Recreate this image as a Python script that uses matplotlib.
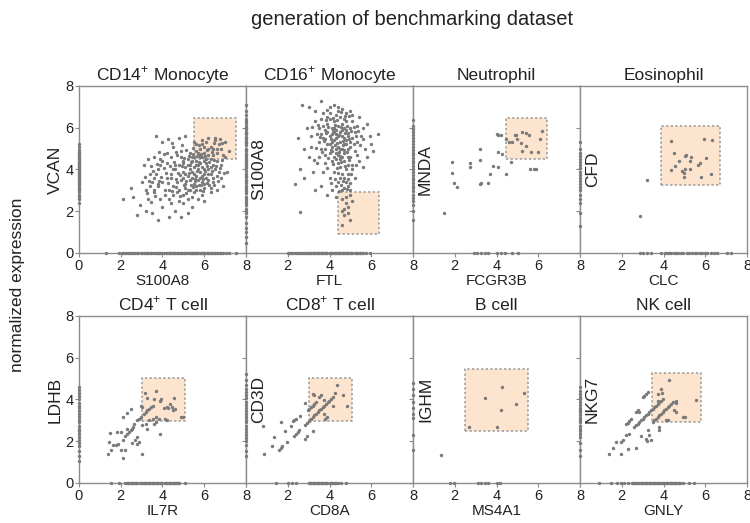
import matplotlib
matplotlib.use('Agg')
import matplotlib.pyplot as plt
from matplotlib.patches import Rectangle

plt.rcParams['font.family'] = ['Liberation Sans', 'DejaVu Sans']
plt.rcParams['mathtext.fontset'] = 'custom'
plt.rcParams['mathtext.rm'] = 'Liberation Sans'

# panel names and genes
titles = ['CD14$^{+}$ Monocyte', 'CD16$^{+}$ Monocyte', 'Neutrophil', 'Eosinophil',
          'CD4$^{+}$ T cell', 'CD8$^{+}$ T cell', 'B cell', 'NK cell']
x_genes = ['S100A8', 'FTL', 'FCGR3B', 'CLC', 'IL7R', 'CD8A', 'MS4A1', 'GNLY']
y_genes = ['VCAN', 'S100A8', 'MNDA', 'CFD', 'LDHB', 'CD3D', 'IGHM', 'NKG7']

# selection boxes (x0, y0, x1, y1)
boxes = [(5.5, 4.48, 7.5, 6.45), (4.4, 0.93, 6.37, 2.93), (4.44, 4.48, 6.42, 6.48),
         (3.89, 3.28, 6.68, 6.1), (3.0, 2.95, 5.1, 5.05), (3.0, 2.95, 5.1, 5.05),
         (2.5, 2.5, 5.5, 5.46), (3.43, 2.93, 5.79, 5.26)]

# cells expressing both genes
mono14_pts = [
    (2.1, 2.6), (2.5, 3.1), (2.6, 2.7), (2.8, 1.8), (2.9, 2.3), (3.0, 3.4), (3.1, 4.2), (3.2, 2.0),
    (3.3, 2.6), (3.4, 3.8), (3.5, 1.9), (3.6, 2.9), (3.7, 5.6), (3.8, 1.6), (3.8, 3.3), (3.9, 4.5),
    (4.0, 2.2), (4.0, 5.3), (4.1, 3.0), (4.2, 4.8), (4.3, 1.7), (4.3, 2.6), (4.4, 3.6), (4.5, 5.1),
    (4.6, 2.0), (4.6, 4.2), (4.7, 2.9), (4.8, 5.5), (4.9, 1.7), (5.0, 2.4), (5.1, 5.6), (5.2, 1.9),
    (5.4, 2.2), (5.5, 5.3), (5.7, 2.6), (6.0, 2.5), (6.3, 2.9), (6.6, 3.0), (6.9, 3.2), (7.1, 3.9),
    (7.0, 4.6), (6.8, 4.2), (6.5, 5.4), (6.2, 5.5), (5.9, 5.2), (6.4, 5.0), (6.8, 5.0), (7.2, 4.9),
    (3.2, 3.0), (3.4, 3.2), (3.5, 3.4), (3.6, 3.6), (3.7, 3.8), (3.8, 4.0), (3.9, 4.2), (4.0, 4.4),
    (3.6, 3.0), (3.8, 3.2), (4.0, 3.4), (4.2, 3.6), (4.4, 3.8), (4.6, 4.0), (4.8, 4.2),
    (3.9, 2.6), (4.1, 2.8), (4.3, 3.0), (4.5, 3.2), (4.7, 3.4),
    (4.2, 4.3), (4.4, 4.6), (4.5, 4.0), (4.7, 4.7), (4.8, 3.0), (4.9, 4.9), (4.4, 2.4), (4.5, 2.8),
    (4.8, 2.5), (5.0, 2.8), (5.1, 3.1), (5.2, 2.6), (5.3, 3.0), (5.5, 2.9), (5.6, 3.2), (5.8, 3.0),
    (6.0, 3.3), (6.2, 3.5), (6.4, 3.4), (6.6, 3.7), (6.7, 3.9), (6.8, 3.6), (6.3, 3.1), (5.9, 2.8),
    (5.4, 2.7),
    (4.9, 3.5), (5.0, 3.9), (5.0, 4.3), (4.9, 4.6), (5.1, 3.3), (5.2, 3.7), (5.1, 4.1), (5.2, 4.5),
    (5.3, 4.8), (5.3, 3.5), (5.4, 3.9), (5.3, 4.2), (5.4, 4.6), (5.5, 3.3), (5.6, 3.7), (5.5, 4.1),
    (5.6, 4.4), (5.7, 4.8), (5.7, 3.5), (5.8, 3.9), (5.7, 4.2), (5.8, 4.6), (5.9, 3.4), (6.0, 3.8),
    (5.9, 4.1), (6.0, 4.4), (6.1, 3.6), (6.2, 4.0), (6.1, 4.3), (6.2, 4.7), (6.3, 3.8), (6.4, 4.2),
    (6.3, 4.5), (6.5, 4.0), (6.6, 4.4), (6.4, 3.6), (5.2, 3.0), (5.6, 3.0), (6.0, 3.1), (5.0, 3.6),
    (5.4, 3.6), (5.8, 3.6), (5.1, 3.8), (5.5, 3.8), (5.9, 3.7), (6.2, 3.8), (5.3, 4.0), (5.7, 4.0),
    (6.0, 4.0), (5.2, 4.2), (5.6, 4.2), (6.3, 4.1), (5.0, 4.4), (5.4, 4.4), (5.8, 4.3), (6.1, 4.5),
    (5.5, 4.6), (5.9, 4.6), (5.6, 4.9), (6.0, 4.8), (5.8, 5.0), (6.3, 5.1), (6.1, 5.3), (6.6, 4.8),
    (6.7, 5.2), (5.6, 5.2), (5.9, 5.4), (6.2, 5.0), (6.4, 4.7), (6.6, 5.0), (6.9, 4.7), (6.5, 5.5),
    (5.8, 4.7), (6.0, 5.1),
    (4.85, 3.75), (4.95, 4.15), (5.05, 4.55), (5.15, 3.45), (5.25, 3.85), (5.35, 4.35), (5.45, 4.75),
    (5.55, 3.55), (5.65, 3.95), (5.75, 4.35), (5.85, 4.75), (5.95, 3.55), (6.05, 3.95), (6.15, 4.15),
    (6.25, 4.35), (6.35, 3.95), (6.45, 4.45), (6.55, 4.15), (5.05, 3.25), (5.45, 3.15), (5.85, 3.25),
    (6.25, 3.25), (4.75, 3.85), (4.65, 3.55), (4.55, 4.35), (4.35, 4.15), (4.25, 3.35), (4.15, 3.85),
    (4.05, 4.05), (3.95, 3.65), (3.85, 3.45), (3.75, 4.25), (3.65, 2.75), (3.55, 3.95), (3.45, 2.45),
    (3.35, 3.45), (3.25, 2.85), (3.15, 3.65), (4.45, 2.95), (4.65, 3.15), (4.85, 2.75), (5.15, 2.85),
    (5.35, 3.25), (5.55, 3.45), (5.75, 3.25), (5.95, 2.95), (6.15, 3.35), (6.45, 3.25), (6.65, 3.45),
    (6.75, 4.05), (6.85, 4.45), (6.95, 3.85), (5.25, 4.65), (5.65, 4.65), (6.05, 4.65), (6.35, 4.85),
    (5.75, 5.15), (6.15, 4.95), (6.45, 5.25), (6.75, 5.45), (6.85, 5.25), (7.0, 5.3), (5.45, 5.05),
    (5.15, 4.95), (4.95, 5.15), (4.65, 4.85), (4.45, 5.25), (4.25, 5.45), (4.05, 4.75), (3.85, 4.85),
    (3.6, 4.6), (3.45, 4.15), (3.3, 4.5),
]
mono16_pts = [
    (2.7, 7.1), (3.6, 7.3), (3.3, 6.8), (4.0, 7.0), (4.6, 6.9), (5.0, 6.8), (5.4, 6.5), (5.8, 6.2),
    (6.3, 5.7), (6.0, 5.2), (5.8, 4.6), (5.6, 4.1), (2.9, 6.0), (3.1, 5.6), (2.8, 5.0), (3.0, 4.6),
    (2.6, 4.0), (2.35, 3.3), (2.8, 3.6), (3.2, 3.9), (3.3, 3.0), (3.6, 3.2), (3.9, 2.8), (4.1, 3.0),
    (2.6, 1.95), (3.4, 4.3), (3.1, 5.1), (3.3, 6.3), (5.5, 5.6), (5.7, 5.0), (5.3, 6.1), (5.1, 4.2),
    (5.4, 4.4), (5.2, 3.6), (4.9, 3.2), (4.6, 3.0), (4.3, 2.7), (4.7, 3.6), (4.4, 3.4), (4.0, 3.6),
    (3.7, 3.9), (3.5, 4.6), (3.8, 4.3), (4.2, 3.9), (4.5, 4.1), (4.9, 3.8), (5.0, 4.6), (3.6, 5.0),
    (3.9, 6.5), (4.3, 6.6), (4.7, 6.4), (5.1, 6.3), (3.5, 6.0), (3.7, 6.7), (4.4, 7.0), (4.8, 6.7),
    (3.7, 5.5), (3.8, 5.9), (3.9, 5.2), (3.9, 6.2), (4.0, 4.8), (4.0, 5.6), (4.1, 6.0), (4.1, 5.3),
    (4.2, 4.6), (4.2, 5.8), (4.2, 6.3), (4.3, 5.0), (4.3, 5.5), (4.4, 6.1), (4.4, 4.7), (4.5, 5.3),
    (4.5, 5.8), (4.6, 5.0), (4.6, 6.2), (4.7, 5.5), (4.7, 4.8), (4.8, 5.9), (4.8, 5.2), (4.9, 4.6),
    (4.9, 5.6), (5.0, 6.0), (5.0, 5.1), (5.1, 5.5), (5.2, 4.9), (5.2, 5.8), (3.8, 5.0), (3.6, 5.7),
    (4.0, 6.4), (4.3, 5.9), (4.5, 6.5), (4.7, 6.0), (4.1, 4.9), (4.4, 5.1), (4.6, 5.6), (4.8, 5.4),
    (4.0, 5.2), (4.2, 5.4), (4.3, 5.7), (4.5, 5.0), (4.6, 4.6), (4.1, 5.7), (3.9, 5.8), (4.4, 5.6),
    (4.7, 5.2), (4.9, 5.0), (3.7, 6.1), (4.2, 6.0), (4.6, 5.9), (4.8, 6.3), (4.9, 4.2), (4.7, 4.4),
    (4.4, 4.3), (4.1, 4.4), (3.8, 4.7), (4.3, 4.5), (4.5, 4.5), (4.8, 4.0), (4.6, 3.8), (4.5, 3.6),
    (4.8, 3.4), (5.0, 3.0), (4.3, 3.2), (4.7, 3.1), (5.1, 4.0), (5.3, 5.3), (5.0, 5.3), (4.0, 6.7),
    (4.4, 6.8), (3.5, 5.3), (3.4, 5.7), (3.6, 6.4),
    (3.75, 5.35), (3.85, 5.75), (3.95, 6.05), (4.05, 5.45), (4.15, 5.85), (4.25, 6.15), (4.35, 5.25),
    (4.45, 5.65), (4.55, 6.05), (4.65, 5.35), (4.75, 5.75), (4.85, 6.1), (4.95, 5.45), (5.05, 5.85),
    (5.15, 5.2), (5.25, 5.6), (4.05, 4.95), (4.25, 5.15), (4.45, 4.85), (4.65, 5.15), (4.85, 4.85),
    (3.95, 4.55), (4.15, 4.25), (4.35, 4.05), (4.55, 4.35), (4.75, 4.15), (4.95, 4.45), (4.15, 6.45),
    (4.35, 6.35), (4.55, 6.75), (4.75, 6.55), (3.85, 6.35), (3.55, 5.55), (3.45, 6.15), (3.65, 4.85),
    (3.35, 5.05), (3.25, 4.45), (3.15, 6.05), (4.95, 6.55), (5.15, 6.05), (5.35, 5.85), (5.45, 5.15),
    (5.6, 5.45), (5.3, 4.7), (5.25, 4.2), (5.05, 3.8), (4.9, 3.55), (4.55, 3.25), (4.4, 3.85),
    (4.25, 3.55), (4.05, 3.35), (3.9, 4.05), (4.65, 3.45), (4.85, 3.05), (4.45, 2.95), (5.0, 3.35),
    (4.3, 4.8), (4.5, 4.65), (4.1, 5.1), (4.7, 4.95), (3.8, 5.45), (4.9, 5.75), (5.1, 6.6),
    (3.9, 6.85), (4.2, 7.1), (5.6, 6.0), (5.95, 5.6), (6.1, 4.9), (2.5, 5.5), (3.0, 7.0),
    (4.6, 2.6), (4.8, 2.4), (4.7, 2.1), (4.9, 2.2), (5.1, 2.5), (4.7, 1.8), (4.9, 1.9), (5.0, 1.6),
    (4.6, 1.35), (4.8, 2.7), (5.0, 2.8), (4.6, 2.0),
]
neutro_pts = [
    (1.5, 1.9), (1.87, 4.37), (1.87, 3.85), (1.98, 3.34), (2.1, 3.15), (2.73, 4.32), (2.74, 4.13),
    (3.2, 4.96), (3.2, 4.45), (3.2, 3.29), (3.26, 3.34), (3.58, 3.34), (3.7, 3.77), (3.83, 4.16),
    (4.0, 5.68), (4.07, 5.65), (4.09, 4.13), (4.09, 4.85), (4.22, 5.65), (4.28, 4.72), (4.44, 3.77),
    (4.47, 5.44), (4.6, 5.32), (4.68, 4.34), (4.75, 5.32), (4.88, 5.65), (4.99, 5.44), (5.15, 5.25),
    (5.23, 5.8), (5.23, 4.88), (5.39, 5.76), (5.39, 5.14), (5.55, 5.65), (5.58, 4.01), (5.67, 4.82),
    (5.79, 4.01), (5.9, 4.0), (5.98, 4.82), (6.07, 5.48), (6.18, 5.83), (4.94, 5.65),
]
eosino_pts = [
    (2.87, 1.77), (3.19, 3.49), (4.36, 5.36), (4.52, 4.8), (4.36, 3.97), (4.56, 4.16), (4.75, 4.4),
    (5.01, 4.64), (5.07, 4.67), (4.88, 3.92), (4.98, 3.82), (5.04, 4.0), (4.98, 3.63), (5.25, 4.43),
    (5.32, 4.59), (5.28, 4.0), (5.64, 4.21), (5.75, 4.32), (5.8, 3.65), (5.96, 5.47), (6.04, 4.56),
    (6.28, 3.76), (6.31, 5.39),
]
cd4_pts = [
    (1.39, 1.37), (1.55, 1.57), (1.42, 1.94), (1.47, 2.39), (1.84, 2.44), (2.0, 2.44), (1.63, 1.8),
    (1.79, 1.8), (1.87, 1.89), (2.0, 1.57), (2.1, 1.22), (2.12, 2.05), (2.2, 2.24), (2.2, 1.6),
    (2.3, 2.6), (2.3, 2.36), (2.39, 2.44), (2.47, 2.52), (2.54, 2.6), (2.6, 2.68), (2.1, 3.16),
    (2.3, 3.35), (2.5, 3.55), (2.55, 1.92), (2.7, 2.08), (2.8, 2.2), (2.77, 1.89), (2.87, 1.97),
    (2.63, 2.84), (2.76, 3.0), (2.87, 3.08), (2.95, 3.16), (3.0, 2.76), (3.0, 1.37), (3.1, 3.32),
    (3.2, 3.4), (3.27, 3.48), (3.36, 3.55), (3.45, 3.62), (3.53, 3.7), (3.2, 2.84), (3.27, 2.6),
    (3.36, 3.0), (3.53, 3.08), (3.6, 2.84), (3.68, 2.92), (3.84, 3.08), (3.89, 2.36), (3.7, 3.16),
    (3.6, 4.03), (3.7, 4.43), (3.18, 4.32), (3.26, 4.08), (3.88, 3.95), (3.95, 4.03), (4.06, 3.6),
    (4.2, 3.62), (4.27, 3.57), (4.36, 3.78), (4.44, 3.62), (4.55, 4.08), (4.6, 3.55), (4.52, 3.48),
    (4.2, 3.0), (4.1, 3.08), (4.9, 3.16), (4.97, 3.16), (2.97, 3.7), (3.04, 3.65),
]
cd8_pts = [
    (0.88, 1.37), (0.83, 2.71), (1.24, 1.76), (1.32, 2.2), (1.6, 1.6), (1.67, 1.7), (1.72, 1.76),
    (1.7, 2.9), (1.88, 2.48), (1.96, 1.94), (2.15, 2.71), (2.23, 2.95), (2.31, 3.0), (2.39, 3.05),
    (2.6, 3.19), (2.31, 2.27), (2.39, 2.36), (2.47, 2.44), (2.55, 2.52), (2.84, 2.13), (2.92, 2.24),
    (2.84, 2.79), (2.92, 2.87), (3.0, 2.95), (3.19, 2.49), (2.84, 3.83), (2.95, 3.48), (3.03, 3.55),
    (3.11, 3.62), (3.19, 3.7), (3.27, 3.78), (3.35, 3.86), (3.19, 4.27), (3.27, 4.22), (3.51, 4.14),
    (3.59, 4.22), (3.11, 3.08), (3.19, 3.16), (3.27, 3.24), (3.35, 3.32), (3.43, 3.4), (3.51, 3.48),
    (3.59, 3.55), (3.67, 3.62), (3.75, 3.7), (3.83, 3.78), (3.91, 3.86), (3.99, 3.94), (4.07, 4.02),
    (4.18, 4.14), (4.27, 4.29), (3.75, 3.32), (3.8, 3.08), (3.88, 3.16), (4.18, 3.7), (4.35, 4.7),
    (4.63, 4.22), (4.83, 3.7), (3.75, 3.98),
]
bcell_pts = [
    (1.32, 1.32), (2.68, 2.66), (3.43, 4.07), (4.03, 2.69), (4.19, 3.49), (4.25, 4.6), (4.91, 3.77),
    (5.31, 4.33),
]
nk_pts = [
    (1.4, 1.37), (1.6, 1.7), (1.72, 1.97), (1.96, 1.37), (1.96, 1.97), (2.04, 2.05), (2.28, 1.65),
    (2.2, 2.29), (2.36, 2.36), (2.2, 2.81), (2.28, 2.89), (2.36, 2.97), (2.44, 3.05), (2.68, 1.7),
    (2.6, 2.68), (2.68, 2.76), (2.76, 2.84), (2.84, 2.92), (2.92, 3.0), (3.0, 3.08), (3.08, 3.16),
    (3.16, 3.24), (3.24, 3.32), (3.32, 3.4), (3.4, 3.48), (3.48, 3.55), (3.55, 3.63), (3.64, 3.71),
    (3.72, 3.79), (3.8, 3.87), (3.88, 3.95), (3.96, 4.03), (2.68, 3.4), (2.76, 3.48), (2.84, 3.4),
    (3.0, 4.11), (3.08, 4.19), (3.16, 4.27), (3.24, 4.35), (2.91, 2.24), (3.16, 2.13), (3.21, 2.02),
    (3.32, 2.29), (3.24, 2.52), (3.4, 2.05), (3.48, 2.92), (3.56, 3.0), (3.64, 3.08), (3.72, 3.16),
    (3.8, 3.24), (3.88, 3.32), (3.96, 3.4), (4.04, 3.48), (4.12, 3.55), (4.2, 3.63), (4.28, 3.71),
    (4.36, 3.79), (4.44, 3.87), (4.6, 3.82), (4.52, 3.48), (4.6, 3.4), (3.8, 2.68), (3.78, 2.52),
    (3.72, 4.27), (3.88, 4.51), (3.92, 4.3), (4.28, 4.94), (3.72, 3.95), (4.12, 3.0), (4.2, 3.03),
    (4.92, 3.16), (5.03, 3.16), (5.55, 3.99), (4.6, 3.95),
]

# cells with zero x-gene (value on y axis) and zero y-gene (value on x axis)
mono14_y0 = [2.4, 2.6, 2.7, 2.9, 3.0, 3.1, 3.2, 3.3, 3.4, 3.5, 3.6, 3.65, 3.7, 3.8, 3.85, 3.9, 4.0,
             4.05, 4.1, 4.2, 4.25, 4.3, 4.4, 4.5, 4.6, 4.7, 4.8, 4.95, 5.1, 5.2, 2.8, 3.05, 3.35,
             3.55, 3.75, 3.95, 4.15, 4.35, 4.55, 4.85]
mono14_x0 = [1.3, 1.9, 2.05, 2.2, 2.3, 2.45, 2.6, 2.7, 2.85, 2.95, 3.1, 3.2, 3.3, 3.45, 3.55, 3.7,
             3.8, 3.9, 4.05, 4.15, 4.3, 4.4, 4.5, 4.6, 4.75, 4.85, 4.95, 5.05, 5.15, 5.3, 5.4, 5.5,
             5.6, 5.7, 5.85, 5.95, 6.05, 6.2, 6.3, 6.45, 6.6, 6.75, 6.9, 7.05, 7.2, 7.5, 2.12, 2.38,
             2.52, 2.78, 3.02, 3.25, 3.38, 3.62, 3.85, 3.97, 4.22, 4.35, 4.55, 4.68, 4.9, 5.1,
             5.22, 5.35, 5.45, 5.55, 5.65, 5.78, 5.9, 6.0, 6.12, 6.25, 6.38, 6.52, 6.68, 6.82]
mono16_y0 = [0.5, 0.75, 1.0, 1.2, 1.45, 1.7, 1.9, 2.1, 2.3, 2.5, 2.7, 2.85, 3.0, 3.2, 3.35, 3.5,
             3.65, 3.8, 3.95, 4.1, 4.2, 4.35, 4.5, 4.6, 4.75, 4.9, 5.0, 5.15, 5.3, 5.4, 5.55, 5.7,
             5.8, 5.95, 6.1, 6.25, 6.4, 6.6, 6.8, 7.1, 2.0, 2.4, 2.6, 2.95, 3.1, 3.45, 3.7, 4.05,
             4.25, 4.45, 4.7, 4.95, 5.25, 5.5, 5.75, 6.0, 6.3]
mono16_x0 = [2.0, 2.15, 2.3, 2.4, 2.55, 2.65, 2.8, 2.9, 3.0, 3.1, 3.2, 3.3, 3.4, 3.5, 3.6, 3.7, 3.8,
             3.9, 4.0, 4.1, 4.2, 4.3, 4.4, 4.5, 4.6, 4.7, 4.8, 4.9, 5.0, 5.1, 5.2, 5.3, 5.45, 5.6,
             5.75, 5.95, 2.08, 2.22, 2.48, 2.72, 2.85, 3.05, 3.25, 3.45, 3.65, 3.85, 4.05, 4.25,
             4.45, 4.65, 4.85, 5.05, 5.25, 5.38, 5.52]
neutro_y0 = [1.6, 2.0, 2.3, 2.5, 2.65, 2.8, 2.95, 3.1, 3.2, 3.35, 3.5, 3.6, 3.75, 3.9, 4.0, 4.15,
             4.3, 4.4, 4.55, 4.7, 4.8, 4.95, 5.1, 5.2, 5.35, 5.5, 5.65, 5.8, 5.95, 6.1, 6.35]
neutro_x0 = [2.9, 3.05, 3.25, 3.45, 3.6, 4.0, 4.2, 4.4, 4.75, 5.05]
eosino_y0 = [1.3, 1.9, 2.4, 2.6, 2.8, 3.0, 3.15, 3.3, 3.45, 3.6, 3.75, 3.9, 4.05, 4.2, 4.35, 4.5,
             4.65, 4.8, 5.0, 5.3]
eosino_x0 = [2.85, 3.0, 3.2, 3.4, 3.9, 4.05, 4.15, 4.25, 4.35, 4.5, 4.6, 4.7, 4.85, 4.95, 5.1, 5.2,
             5.35, 5.5, 5.6, 5.75, 5.85, 6.0, 6.1, 6.25, 6.4, 6.55, 7.05, 7.25]
cd4_y0 = [1.05, 1.3, 1.55, 1.75, 1.9, 2.05, 2.2, 2.35, 2.5, 2.6, 2.75, 2.9, 3.0, 3.15, 3.3, 3.45,
          3.6, 3.7, 3.85, 4.0, 4.15, 4.3, 4.45, 4.6]
cd4_x0 = [1.55, 1.9, 2.2, 2.3, 2.4, 2.5, 2.6, 2.7, 2.8, 2.9, 3.0, 3.1, 3.2, 3.3, 3.4, 3.5, 3.6, 3.7,
          3.8, 3.9, 4.0, 4.1, 4.2, 4.3, 4.4, 4.5, 4.6, 4.7, 4.8, 5.1, 2.35, 2.55, 2.75, 2.95,
          3.15, 3.35, 3.55, 3.75, 3.95, 4.15, 4.35, 4.55, 4.75]
cd8_y0 = [1.3, 1.55, 1.8, 2.0, 2.15, 2.3, 2.45, 2.6, 2.75, 2.9, 3.0, 3.15, 3.3, 3.45, 3.6, 3.75,
          3.9, 4.05, 4.2, 4.35, 4.5, 4.7, 4.95, 5.2]
cd8_x0 = [1.45, 2.0, 2.2, 2.4, 3.0, 3.1, 3.2, 3.3, 3.4, 3.5, 3.6, 3.7, 3.8, 3.9, 4.0, 4.1, 4.2, 4.3,
          4.4, 4.55, 4.8, 3.05, 3.25, 3.45, 3.65, 3.85, 4.05, 4.25]
bcell_y0 = [1.6, 2.3, 3.1, 3.3, 3.6, 3.9, 4.2, 4.5, 4.8]
bcell_x0 = [1.75, 1.95, 3.1, 3.25, 3.45, 3.6, 4.0, 4.15]
nk_y0 = [1.3, 1.6, 1.9, 2.2, 2.35, 2.5, 2.6, 2.75, 2.9, 3.0, 3.1, 3.25, 3.4, 3.5, 3.6, 3.75, 3.9,
         4.0, 4.1, 4.25, 4.4, 4.6]
nk_x0 = [0.9, 1.5, 1.75, 1.95, 2.1, 2.3, 2.5, 2.6, 2.7, 2.8, 2.9, 3.0, 3.1, 3.2, 3.3, 3.4, 3.5, 3.6,
         3.7, 3.8, 3.9, 4.0, 4.1, 4.2, 4.3, 4.4, 4.5, 4.6, 4.7, 4.8, 4.95, 5.2, 5.45, 2.55, 2.75,
         2.95, 3.15, 3.35, 3.55, 3.75, 3.95, 4.15, 4.35, 4.55, 4.75]

points = [mono14_pts, mono16_pts, neutro_pts, eosino_pts, cd4_pts, cd8_pts, bcell_pts, nk_pts]
zero_x = [mono14_y0, mono16_y0, neutro_y0, eosino_y0, cd4_y0, cd8_y0, bcell_y0, nk_y0]
zero_y = [mono14_x0, mono16_x0, neutro_x0, eosino_x0, cd4_x0, cd8_x0, bcell_x0, nk_x0]

dot_col = '#7a7a7a'
axis_col = '#8c8c8c'
text_col = '#222222'

fig = plt.figure(figsize=(7.5, 5.23), dpi=100)
left, w, h = 0.1053, 0.2227, 0.3193
bottoms = [0.5163, 0.0765]

for k in range(8):
    row, col = divmod(k, 4)
    ax = fig.add_axes([left + col * w, bottoms[row], w, h])
    ax.set_xlim(0, 8)
    ax.set_ylim(0, 8)

    x0, y0, x1, y1 = boxes[k]
    ax.add_patch(Rectangle((x0, y0), x1 - x0, y1 - y0, facecolor='#fce4cf', edgecolor='#9a9a9a',
                           linestyle=(0, (1.5, 1.5)), linewidth=1.1, zorder=2))

    xs = [p[0] for p in points[k]]
    ys = [p[1] for p in points[k]]
    ax.scatter(xs, ys, s=6, c=dot_col, linewidths=0, zorder=3)
    ax.scatter([0] * len(zero_x[k]), zero_x[k], s=6, c=dot_col, linewidths=0, zorder=4, clip_on=False)
    ax.scatter(zero_y[k], [0] * len(zero_y[k]), s=6, c=dot_col, linewidths=0, zorder=4, clip_on=False)

    for sp in ax.spines.values():
        sp.set_color(axis_col)
        sp.set_linewidth(1.0)
    ax.tick_params(direction='out', length=3, width=0.8, color=axis_col, labelsize=10.5,
                   labelcolor=text_col, pad=1)
    ax.set_xticks([0, 2, 4, 6, 8])
    ax.set_yticks([0, 2, 4, 6, 8])
    if col == 0:
        ax.set_xticklabels(['0', '2', '4', '6', '8'])
        ax.set_ylabel(y_genes[k], fontsize=12.5, color=text_col)
        ax.yaxis.set_label_coords(-0.095, 0.5)
    else:
        ax.set_xticklabels(['', '2', '4', '6', '8'])
        ax.set_yticklabels([])
        ax.set_ylabel(y_genes[k], fontsize=12.5, color=text_col)
        ax.yaxis.set_label_coords(0.12, 0.5)

    ax.set_xlabel(x_genes[k], fontsize=11, color=text_col, labelpad=1)
    ax.set_title(titles[k], fontsize=12.5, color=text_col, pad=4)

fig.text(0.024, 0.455, 'normalized expression', rotation=90, ha='center', va='center',
         fontsize=12.5, color=text_col)
fig.text(0.55, 0.962, 'generation of benchmarking dataset', ha='center', va='center',
         fontsize=14.5, color=text_col)

fig.savefig('out.png', dpi=100)
